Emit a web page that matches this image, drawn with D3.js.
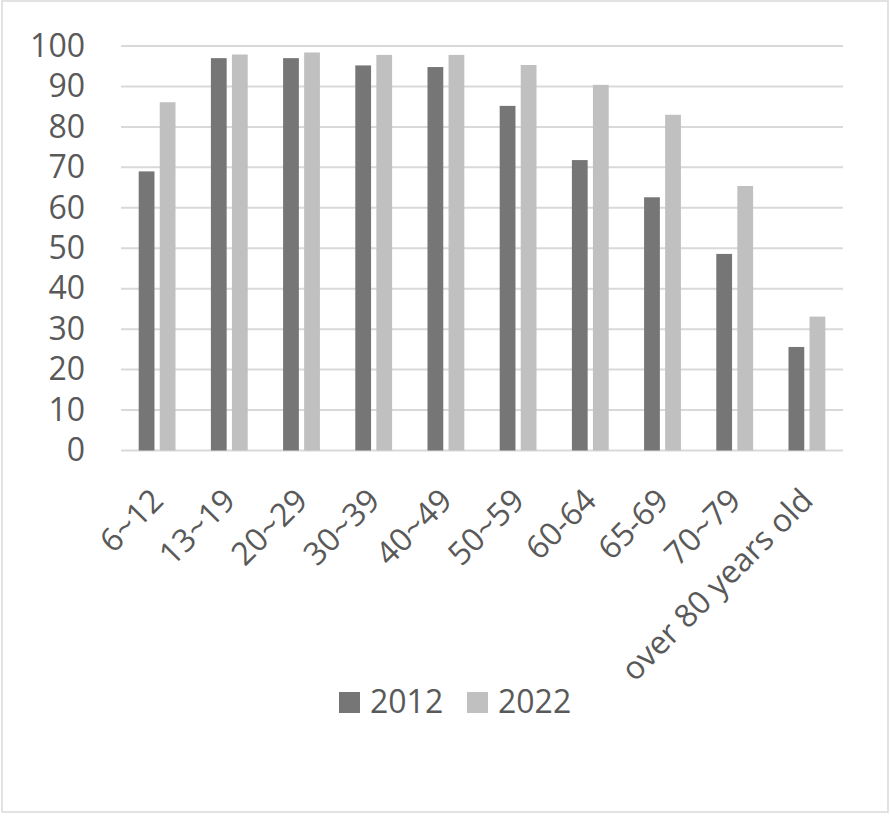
<!DOCTYPE html>
<html>
<head>
<meta charset="utf-8">
<script src="https://cdn.jsdelivr.net/npm/d3@7"></script>
<style>
  body { margin: 0; background: #fff; }
  text { font-family: "Open Sans", sans-serif; fill: #595959; }
</style>
</head>
<body>
<div id="chart"></div>
<script>
// Age groups and values (%)
const categories = ["6~12", "13~19", "20~29", "30~39", "40~49", "50~59", "60-64", "65-69", "70~79", "over 80 years old"];
const series = ["2012", "2022"];
const values2012 = [69.0, 97.0, 97.0, 95.2, 94.8, 85.2, 71.8, 62.6, 48.6, 25.6];
const values2022 = [86.1, 97.9, 98.4, 97.8, 97.8, 95.3, 90.4, 83.0, 65.4, 33.1];
const yTicks = [0, 10, 20, 30, 40, 50, 60, 70, 80, 90, 100];

const data = categories.map((c, i) => ({ cat: c, "2012": values2012[i], "2022": values2022[i] }));

const W = 891, H = 816;
const plot = { left: 121, right: 843, top: 46, bottom: 450.5 };

const svg = d3.select("#chart").append("svg")
  .attr("width", W)
  .attr("height", H);

// outer frame
svg.append("rect")
  .attr("x", 2).attr("y", 1)
  .attr("width", 886).attr("height", 811)
  .attr("fill", "#fff")
  .attr("stroke", "#d9d9d9")
  .attr("stroke-width", 1.5);

const x0 = d3.scaleBand()
  .domain(categories)
  .range([plot.left, plot.right])
  .paddingInner(0.49)
  .paddingOuter(0.245);

const x1 = d3.scaleBand()
  .domain(series)
  .range([0, x0.bandwidth()])
  .paddingInner(0.25);

const y = d3.scaleLinear()
  .domain([0, 100])
  .range([plot.bottom, plot.top]);

const color = d3.scaleOrdinal()
  .domain(series)
  .range(["#767676", "#c0c0c0"]);

// gridlines
svg.append("g")
  .selectAll("line")
  .data(yTicks)
  .enter()
  .append("line")
  .attr("x1", plot.left)
  .attr("x2", plot.right)
  .attr("y1", d => y(d))
  .attr("y2", d => y(d))
  .attr("stroke", "#d9d9d9")
  .attr("stroke-width", 2);

// y axis labels
const yAxis = svg.append("g")
  .attr("transform", `translate(${plot.left}, 0)`)
  .call(d3.axisLeft(y).tickValues(yTicks).tickSize(0).tickPadding(36));
yAxis.select(".domain").remove();
yAxis.selectAll("text")
  .style("font-size", "32px")
  .attr("fill", "#595959");

// bars
svg.append("g")
  .selectAll("g")
  .data(data)
  .enter()
  .append("g")
  .attr("transform", d => `translate(${x0(d.cat)}, 0)`)
  .selectAll("rect")
  .data(d => series.map(s => ({ key: s, value: d[s] })))
  .enter()
  .append("rect")
  .attr("x", d => x1(d.key))
  .attr("y", d => y(d.value))
  .attr("width", x1.bandwidth())
  .attr("height", d => y(0) - y(d.value))
  .attr("fill", d => color(d.key));

// x axis labels (rotated)
const xAxis = svg.append("g")
  .attr("transform", `translate(0, ${plot.bottom})`)
  .call(d3.axisBottom(x0).tickSize(0).tickPadding(0));
xAxis.select(".domain").remove();
xAxis.selectAll("text")
  .style("font-size", "32px")
  .attr("fill", "#595959")
  .attr("text-anchor", "end")
  .attr("dy", null)
  .attr("y", 0)
  .attr("transform", "translate(8, 52) rotate(-45)");

// legend
const legend = svg.append("g")
  .attr("transform", "translate(339, 692)");
const legendX = [0, 128];
series.forEach((key, i) => {
  const g = legend.append("g").attr("transform", `translate(${legendX[i]}, 0)`);
  g.append("rect")
    .attr("width", 21)
    .attr("height", 21)
    .attr("fill", color(key));
  g.append("text")
    .attr("x", 31)
    .attr("y", 21)
    .style("font-size", "32px")
    .text(key);
});
</script>
</body>
</html>
